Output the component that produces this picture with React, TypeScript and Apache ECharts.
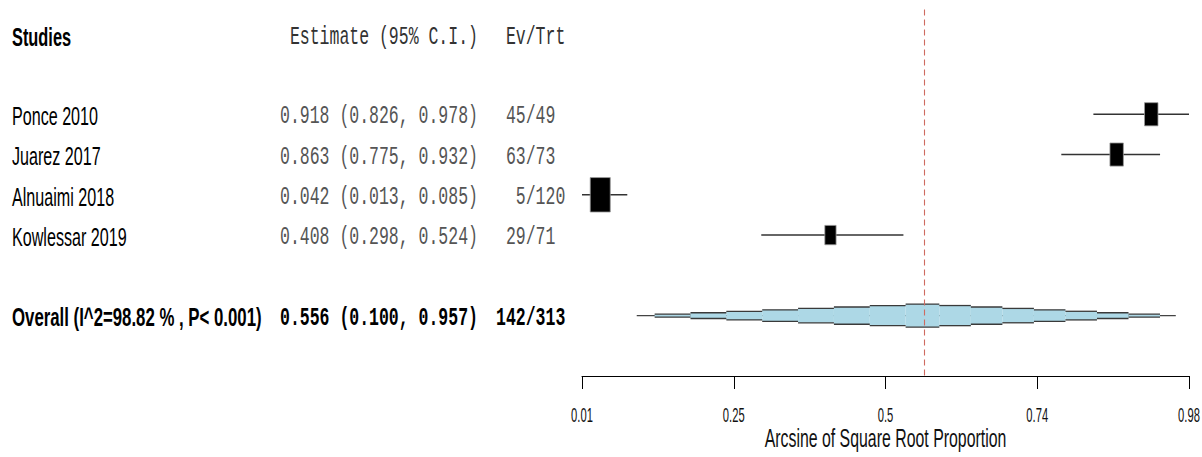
import React, { useEffect, useRef } from "react";
import * as echarts from "echarts";

// ---------- data ----------
const STUDIES = ["Ponce 2010", "Juarez 2017", "Alnuaimi 2018", "Kowlessar 2019"];
const EST = [0.918, 0.863, 0.042, 0.408];
const LOWER = [0.826, 0.775, 0.013, 0.298];
const UPPER = [0.978, 0.932, 0.085, 0.524];
const EVENTS = [45, 63, 5, 29];
const TOTALS = [49, 73, 120, 71];
const BOX_WEIGHT = [0.204, 0.203, 0.451, 0.142];
const STUDY_ROWS = [1, 2, 3, 4];

const OVERALL_LABEL = ["Overall (I^2=98.82 % , P< 0.001)"];
const OVERALL_EST = [0.556];
const OVERALL_LOWER = [0.1];
const OVERALL_UPPER = [0.957];
const OVERALL_EVENTS = [142];
const OVERALL_TOTALS = [313];
const OVERALL_ROW = [6];

const HEADERS = ["Studies", "Estimate (95% C.I.)", "Ev/Trt"];
const AXIS_TITLE = "Arcsine of Square Root Proportion";
const AXIS_MIN = 0.013;
const AXIS_MAX = 0.978;
const TICK_LABELS = ["0.01", "0.25", "0.5", "0.74", "0.98"];
const TICK_VALUES = TICK_LABELS.map(
  (_, i) => AXIS_MIN + (i * (AXIS_MAX - AXIS_MIN)) / (TICK_LABELS.length - 1)
);

// ---------- layout ----------
const W = 1202;
const H = 457;
const GRID_LEFT = 582;
const GRID_RIGHT = 13;
const GRID_TOP = 74;
const AXIS_Y = 376;
const Y_MAX = 7.5;
const ROW_H = (AXIS_Y - GRID_TOP) / Y_MAX;
const rowY = (r: number) => GRID_TOP + r * ROW_H;

const SANS = "'Liberation Sans', Arial, sans-serif";
const MONO = "'Liberation Mono', 'Courier New', monospace";
const MONO_SX = 0.66;
const MONO_FS = 25;
const CHAR_W = 0.6 * MONO_FS * MONO_SX;
const NAME_X = 12;
const EST_X = 280;
const EV_X = 496;
const TEXT_DY = 2;
const BOX_AREA = 1531;
const BOX_ASPECT = 1.72;
const DIAMOND_H = 23;
const DIAMOND_STEPS = 8;

function txt(
  text: string,
  x: number,
  y: number,
  opts: { font: string; size: number; bold?: boolean; color?: string; sx: number; align?: string }
) {
  return {
    type: "text",
    x,
    y,
    scaleX: opts.sx,
    silent: true,
    style: {
      text,
      fontFamily: opts.font,
      fontSize: opts.size,
      fontWeight: opts.bold ? "bold" : "normal",
      fill: opts.color || "#000",
      align: opts.align || "left",
      verticalAlign: "middle",
      textAlign: opts.align || "left",
      textVerticalAlign: "middle",
    },
  };
}

const fmtCI = (e: number, l: number, u: number) =>
  `${e.toFixed(3)} (${l.toFixed(3)}, ${u.toFixed(3)})`;

function buildGraphics() {
  const els: any[] = [];
  const hy = 37;
  els.push(txt(HEADERS[0], NAME_X, hy, { font: SANS, size: 26, bold: true, sx: 0.63 }));
  els.push(txt(HEADERS[1], EST_X + CHAR_W, hy, { font: MONO, size: MONO_FS, color: "#333", sx: MONO_SX }));
  els.push(txt(HEADERS[2], EV_X + CHAR_W, hy, { font: MONO, size: MONO_FS, color: "#333", sx: MONO_SX }));
  STUDIES.forEach((s, i) => {
    const y = rowY(STUDY_ROWS[i]) + TEXT_DY;
    els.push(txt(s, NAME_X, y, { font: SANS, size: 25, sx: 0.645 }));
    els.push(
      txt(fmtCI(EST[i], LOWER[i], UPPER[i]), EST_X, y, { font: MONO, size: MONO_FS, color: "#555", sx: MONO_SX })
    );
    const ev = String(EVENTS[i]);
    els.push(
      txt(`${ev}/${TOTALS[i]}`, EV_X + (3 - ev.length) * CHAR_W, y, {
        font: MONO,
        size: MONO_FS,
        color: "#555",
        sx: MONO_SX,
      })
    );
  });
  const oy = rowY(OVERALL_ROW[0]) + TEXT_DY;
  els.push(txt(OVERALL_LABEL[0], NAME_X, oy, { font: SANS, size: 25, bold: true, sx: 0.672 }));
  els.push(
    txt(fmtCI(OVERALL_EST[0], OVERALL_LOWER[0], OVERALL_UPPER[0]), EST_X, oy, {
      font: MONO,
      size: MONO_FS,
      bold: true,
      sx: MONO_SX,
    })
  );
  const oev = String(OVERALL_EVENTS[0]);
  els.push(
    txt(`${oev}/${OVERALL_TOTALS[0]}`, EV_X + (3 - oev.length) * CHAR_W, oy, {
      font: MONO,
      size: MONO_FS,
      bold: true,
      sx: MONO_SX,
    })
  );
  const gridMid = GRID_LEFT + (W - GRID_RIGHT - GRID_LEFT) / 2;
  els.push(txt(AXIS_TITLE, gridMid, 438, { font: SANS, size: 25, sx: 0.635, align: "center", color: "#111" }));
  return els;
}

export default function App() {
  const ref = useRef<HTMLDivElement>(null);
  useEffect(() => {
    if (!ref.current) return;
    const chart = echarts.init(ref.current, undefined, { renderer: "svg" });

    const studyData = STUDIES.map((_, i) => [EST[i], LOWER[i], UPPER[i], STUDY_ROWS[i], BOX_WEIGHT[i]]);
    const overallData = OVERALL_EST.map((e, i) => [e, OVERALL_LOWER[i], OVERALL_UPPER[i], OVERALL_ROW[i]]);

    const option: any = {
      animation: false,
      backgroundColor: "#fff",
      grid: { left: GRID_LEFT, right: GRID_RIGHT, top: GRID_TOP, bottom: H - AXIS_Y, containLabel: false },
      xAxis: {
        type: "value",
        position: "bottom",
        min: AXIS_MIN,
        max: AXIS_MAX,
        axisLine: { show: true, onZero: false, lineStyle: { color: "#000", width: 1 } },
        axisTick: { show: true, length: 13, lineStyle: { color: "#000", width: 1 }, customValues: TICK_VALUES },
        axisLabel: { show: false },
        splitLine: { show: false },
      },
      yAxis: { type: "value", min: 0, max: Y_MAX, inverse: true, show: false },
      graphic: buildGraphics(),
      series: [
        {
          type: "custom",
          name: "studies",
          clip: false,
          silent: true,
          data: studyData,
          encode: { x: [0, 1, 2], y: 3 },
          renderItem: (params: any, api: any) => {
            const e = api.value(0);
            const l = api.value(1);
            const u = api.value(2);
            const r = api.value(3);
            const w = api.value(4);
            const pe = api.coord([e, r]);
            const pl = api.coord([l, r]);
            const pu = api.coord([u, r]);
            const bw = Math.sqrt((w * BOX_AREA) / BOX_ASPECT);
            const bh = bw * BOX_ASPECT;
            return {
              type: "group",
              children: [
                {
                  type: "line",
                  shape: { x1: pl[0], y1: pl[1], x2: pu[0], y2: pu[1] },
                  style: { stroke: "#333", lineWidth: 1.6 },
                },
                {
                  type: "rect",
                  shape: { x: pe[0] - bw / 2, y: pe[1] - bh / 2, width: bw, height: bh },
                  style: { fill: "#000", stroke: "#999", lineWidth: 0.8 },
                },
              ],
            };
          },
        },
        {
          type: "custom",
          name: "overall",
          clip: false,
          silent: true,
          data: overallData,
          encode: { x: [0, 1, 2], y: 3 },
          renderItem: (params: any, api: any) => {
            const e = api.value(0);
            const l = api.value(1);
            const u = api.value(2);
            const r = api.value(3);
            const pe = api.coord([e, r]);
            const pl = api.coord([l, r]);
            const pu = api.coord([u, r]);
            const L = pe[0] - pl[0];
            const R = pu[0] - pe[0];
            const xAt = (t: number) => (t < 0 ? pe[0] + t * L : pe[0] + t * R);
            const cy = pe[1];
            const children: any[] = [
              {
                type: "line",
                shape: { x1: pl[0], y1: cy, x2: pu[0], y2: cy },
                style: { stroke: "#444", lineWidth: 1.4 },
              },
            ];
            const N = DIAMOND_STEPS;
            const edges: any[] = [];
            for (let k = -N + 1; k <= N - 1; k++) {
              const t = k / N;
              const x1 = xAt(t - 1 / (2 * N));
              const x2 = xAt(t + 1 / (2 * N));
              const h = DIAMOND_H * (1 - Math.abs(t));
              children.push({
                type: "rect",
                shape: { x: x1, y: cy - h / 2, width: x2 - x1, height: h },
                style: { fill: "#ADD8E6", stroke: null },
              });
              edges.push({
                type: "line",
                shape: { x1, y1: cy - h / 2, x2, y2: cy - h / 2 },
                style: { stroke: "#3a3a3a", lineWidth: 1.3 },
              });
              edges.push({
                type: "line",
                shape: { x1, y1: cy + h / 2, x2, y2: cy + h / 2 },
                style: { stroke: "#3a3a3a", lineWidth: 1.3 },
              });
            }
            return { type: "group", children: children.concat(edges) };
          },
        },
        {
          type: "custom",
          name: "ref",
          clip: false,
          silent: true,
          z: 5,
          data: overallData,
          encode: { x: 0, y: 3 },
          renderItem: (params: any, api: any) => {
            const e = api.value(0);
            const p1 = api.coord([e, -1.6]);
            const p2 = api.coord([e, Y_MAX]);
            const x = Math.round(p1[0]) + 0.5;
            return {
              type: "line",
              shape: { x1: x, y1: p1[1], x2: x, y2: p2[1] },
              style: { stroke: "#cf6a60", fill: null, lineWidth: 1.1, lineDash: [6, 4] },
            };
          },
        },
        {
          type: "custom",
          name: "ticklabels",
          clip: false,
          silent: true,
          data: TICK_VALUES.map((v, i) => [v, i]),
          encode: { x: 0 },
          renderItem: (params: any, api: any) => {
            const v = api.value(0);
            const i = api.value(1);
            const p = api.coord([v, Y_MAX]);
            return txt(TICK_LABELS[i], p[0], p[1] + 39, {
              font: SANS,
              size: 20,
              sx: 0.56,
              align: "center",
              color: "#111",
            });
          },
        },
      ],
    };
    chart.setOption(option);
    return () => chart.dispose();
  }, []);
  return (
    <div
      ref={ref}
      style={{ position: "fixed", left: 0, top: 0, width: W, height: H, background: "#fff" }}
    />
  );
}
